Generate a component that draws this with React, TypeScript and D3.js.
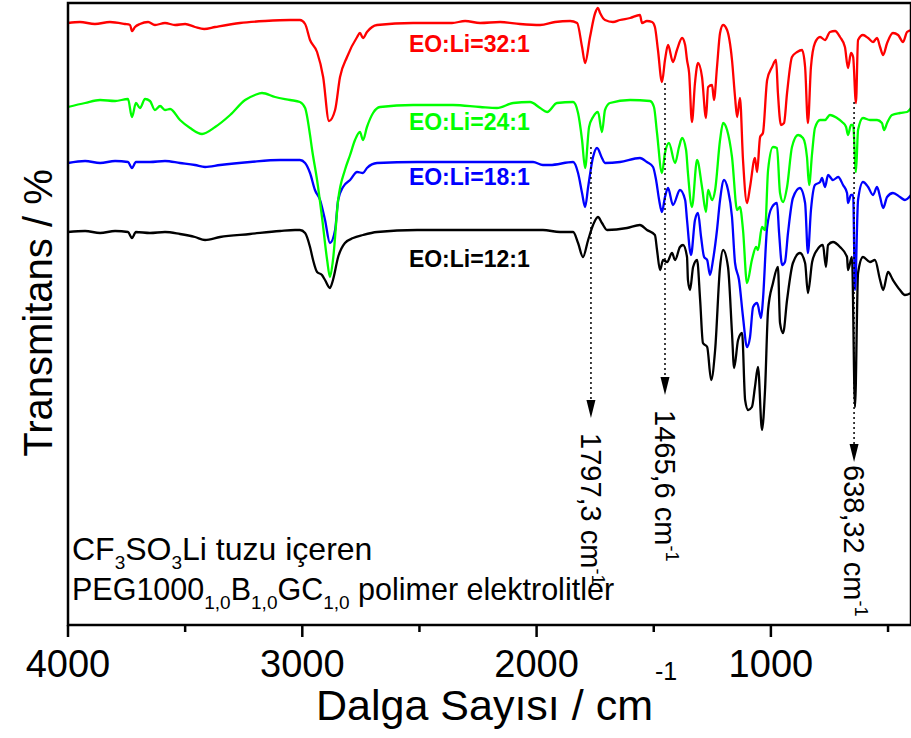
import React from 'react';
import * as d3 from 'd3';

const W = 911;
const H = 738;
const plot = { left: 68, top: 3, right: 911, bottom: 625 };

// FTIR spectra: [wavenumber (cm-1), transmittance (a.u., offset)]
const eo32: [number, number][] = [
  [4000, 602], [3949, 603], [3885, 601], [3821, 603], [3757, 601], [3735, 600], [3727, 594], [3714, 598],
  [3693, 601], [3658, 603], [3629, 600], [3586, 602], [3543, 600], [3500, 601], [3458, 598], [3419, 596],
  [3372, 598], [3266, 602], [3159, 604], [3052, 605], [3010, 605], [2988, 601], [2967, 585], [2937, 573],
  [2911, 548], [2886, 504], [2860, 515], [2839, 548], [2809, 568], [2766, 588], [2754, 592], [2741, 587],
  [2724, 593], [2681, 600], [2527, 602], [2361, 602], [2305, 604], [2241, 602], [2156, 603], [2071, 601],
  [1985, 600], [1921, 603], [1857, 604], [1827, 602], [1806, 578], [1793, 562], [1772, 588], [1750, 612],
  [1738, 617], [1729, 612], [1708, 605], [1674, 603], [1644, 605], [1601, 607], [1559, 610], [1550, 602],
  [1529, 604], [1507, 603], [1495, 598], [1482, 575], [1465, 543], [1452, 565], [1439, 580], [1418, 563],
  [1401, 575], [1379, 587], [1366, 580], [1358, 565], [1349, 552], [1337, 503], [1324, 542], [1311, 562],
  [1294, 548], [1277, 507], [1268, 538], [1251, 540], [1243, 525], [1230, 558], [1217, 592], [1204, 600],
  [1187, 595], [1166, 565], [1153, 528], [1144, 508], [1132, 527], [1119, 465], [1102, 422], [1089, 438],
  [1068, 467], [1059, 453], [1046, 488], [1034, 492], [1016, 545], [995, 558], [978, 565], [970, 532],
  [957, 500], [944, 502], [931, 532], [910, 568], [888, 573], [867, 575], [854, 558], [842, 502],
  [829, 558], [812, 582], [790, 588], [769, 585], [748, 593], [726, 594], [705, 588], [684, 578],
  [671, 557], [658, 572], [649, 568], [637, 522], [628, 585], [607, 590], [585, 587], [564, 583],
  [547, 587], [534, 578], [521, 570], [504, 582], [479, 592], [457, 590], [436, 583], [419, 593], [402, 595],
];

const eo24: [number, number][] = [
  [4000, 518], [3927, 522], [3863, 525], [3799, 524], [3744, 526], [3727, 508], [3710, 522], [3693, 517],
  [3671, 526], [3650, 524], [3629, 515], [3607, 519], [3586, 515], [3564, 516], [3522, 505], [3479, 497],
  [3428, 491], [3372, 498], [3308, 510], [3244, 525], [3202, 530], [3172, 532], [3116, 528], [3052, 525],
  [3010, 523], [2988, 517], [2967, 490], [2958, 475], [2937, 445], [2916, 408], [2894, 365], [2882, 348],
  [2869, 365], [2847, 425], [2818, 455], [2796, 470], [2775, 485], [2754, 493], [2741, 485], [2724, 498],
  [2698, 512], [2668, 518], [2527, 520], [2357, 520], [2241, 518], [2169, 517], [2100, 522], [2028, 523],
  [1985, 517], [1955, 513], [1913, 522], [1844, 523], [1823, 512], [1806, 485], [1793, 457], [1776, 498],
  [1759, 508], [1738, 513], [1721, 493], [1708, 515], [1687, 522], [1601, 525], [1516, 524], [1499, 518],
  [1486, 492], [1465, 452], [1452, 472], [1435, 482], [1409, 462], [1392, 478], [1379, 487], [1362, 475],
  [1354, 452], [1337, 418], [1315, 465], [1294, 438], [1277, 413], [1268, 435], [1251, 425], [1238, 435],
  [1217, 485], [1204, 502], [1187, 495], [1166, 468], [1144, 415], [1132, 418], [1119, 395], [1102, 342],
  [1081, 365], [1063, 378], [1055, 375], [1038, 398], [1025, 395], [1012, 455], [991, 478], [974, 477],
  [961, 432], [948, 423], [931, 438], [910, 478], [884, 490], [863, 487], [846, 468], [837, 440],
  [824, 472], [812, 497], [790, 505], [769, 505], [748, 510], [718, 507], [696, 503], [679, 498],
  [671, 490], [658, 500], [649, 500], [637, 453], [628, 495], [607, 507], [577, 505], [547, 505],
  [526, 502], [517, 495], [504, 502], [483, 510], [449, 512], [419, 513], [402, 517],
];

const eo18: [number, number][] = [
  [4000, 462], [3927, 464], [3863, 462], [3799, 464], [3744, 463], [3727, 457], [3710, 463], [3650, 463],
  [3586, 464], [3522, 462], [3458, 460], [3415, 458], [3351, 460], [3223, 463], [3095, 465], [3010, 465],
  [2988, 462], [2967, 452], [2946, 435], [2924, 425], [2903, 405], [2882, 382], [2860, 395], [2847, 425],
  [2826, 438], [2796, 445], [2766, 453], [2741, 452], [2724, 457], [2681, 462], [2510, 463], [2229, 463],
  [2015, 463], [1973, 460], [1943, 460], [1844, 463], [1823, 452], [1806, 432], [1793, 418], [1780, 438],
  [1759, 468], [1742, 477], [1721, 467], [1708, 462], [1644, 463], [1559, 467], [1529, 463], [1503, 458],
  [1490, 445], [1477, 425], [1465, 413], [1452, 428], [1439, 437], [1418, 420], [1388, 435], [1366, 425],
  [1358, 405], [1341, 370], [1324, 405], [1311, 412], [1298, 388], [1285, 368], [1272, 365], [1260, 350],
  [1247, 365], [1230, 395], [1217, 425], [1200, 445], [1183, 435], [1166, 408], [1153, 362], [1136, 345],
  [1119, 308], [1102, 278], [1089, 288], [1076, 318], [1059, 322], [1042, 307], [1034, 325], [1016, 398],
  [995, 418], [974, 422], [965, 392], [952, 360], [940, 363], [927, 392], [906, 427], [876, 437],
  [854, 422], [842, 372], [829, 415], [812, 440], [790, 443], [782, 447], [769, 438], [756, 450],
  [735, 445], [713, 448], [692, 440], [675, 432], [671, 422], [658, 430], [649, 430], [641, 335],
  [628, 425], [607, 443], [585, 438], [564, 430], [547, 438], [534, 428], [521, 417], [504, 428],
  [479, 432], [449, 428], [428, 425], [402, 430],
];

const eo12: [number, number][] = [
  [4000, 393], [3927, 394], [3863, 392], [3799, 394], [3744, 393], [3727, 387], [3710, 393], [3650, 392],
  [3586, 393], [3522, 391], [3458, 388], [3415, 385], [3351, 388], [3223, 391], [3095, 394], [3031, 395],
  [3010, 395], [2988, 392], [2967, 378], [2954, 365], [2937, 353], [2916, 350], [2903, 345], [2882, 337],
  [2869, 345], [2847, 368], [2818, 382], [2783, 387], [2741, 390], [2681, 393], [2510, 395], [2229, 395],
  [2083, 395], [1973, 395], [1900, 393], [1844, 393], [1823, 382], [1802, 368], [1780, 385], [1759, 400],
  [1738, 408], [1721, 402], [1699, 395], [1614, 397], [1559, 400], [1529, 395], [1495, 390], [1486, 375],
  [1473, 355], [1460, 365], [1443, 363], [1422, 372], [1409, 365], [1388, 378], [1375, 380], [1358, 368],
  [1354, 345], [1345, 335], [1332, 358], [1315, 365], [1302, 325], [1290, 282], [1272, 278], [1255, 245],
  [1238, 275], [1217, 358], [1204, 375], [1183, 358], [1166, 292], [1157, 257], [1140, 285], [1123, 292],
  [1110, 225], [1097, 215], [1081, 218], [1068, 238], [1055, 258], [1038, 195], [1025, 235], [1012, 315],
  [991, 342], [970, 358], [961, 302], [948, 292], [931, 325], [906, 362], [876, 372], [854, 362],
  [842, 332], [824, 363], [803, 375], [778, 380], [765, 358], [756, 380], [735, 383], [705, 378],
  [675, 368], [671, 355], [654, 368], [641, 218], [628, 352], [607, 368], [577, 363], [556, 365],
  [534, 345], [521, 335], [500, 353], [479, 345], [449, 335], [428, 330], [402, 332],
];

const seriesData = [eo12, eo18, eo24, eo32];
const seriesNames = ['EO:Li=12:1', 'EO:Li=18:1', 'EO:Li=24:1', 'EO:Li=32:1'];
const seriesColors = ['#000000', '#0000ff', '#00ff00', '#ff0000'];
const labelLevels = [358, 440, 495, 573];
const labelWn = 2545;

const xMajor = [4000, 3000, 2000, 1000];
const xMinor = [3500, 2500, 1500, 500];

// peak markers: arrow position, dotted line start / tip, label start
const peakLabels = ['1797,3', '1465,6', '638,32'];
const peakArrowWn = [1768, 1452, 645];
const peakLineTop = [478, 542, 523];
const peakTip = [207, 230, 163];
const peakTextStart = [192, 215, 160];

const font = 'Liberation Sans, Arial, Helvetica, sans-serif';

export default function App() {
  const x = d3.scaleLinear().domain([4000, 402]).range([plot.left, plot.right]);
  const y = d3.scaleLinear().domain([0, 622]).range([plot.bottom, plot.top]);
  const line = d3
    .line<[number, number]>()
    .x((d) => x(d[0]))
    .y((d) => y(d[1]))
    .curve(d3.curveMonotoneX);

  return (
    <svg width={W} height={H} style={{ position: 'absolute', left: 0, top: 0 }} fontFamily={font}>
      <rect x={0} y={0} width={W} height={H} fill="#fff" />

      {seriesData.map((d, i) => (
        <path key={seriesNames[i]} d={line(d) || ''} fill="none" stroke={seriesColors[i]} strokeWidth={2.3} strokeLinejoin="round" />
      ))}

      {seriesNames.map((n, i) => (
        <text key={n} x={x(labelWn)} y={y(labelLevels[i])} fontSize={23} fontWeight="bold" fill={seriesColors[i]}>
          {n}
        </text>
      ))}

      {peakLabels.map((p, i) => {
        const px = x(peakArrowWn[i]);
        const tip = y(peakTip[i]);
        return (
          <g key={p}>
            <line x1={px} x2={px} y1={y(peakLineTop[i])} y2={tip - 16} stroke="#000" strokeWidth={1.5} strokeDasharray="2,3" />
            <path d={`M${px - 4.5},${tip - 18}L${px + 4.5},${tip - 18}L${px},${tip}Z`} fill="#000" />
            <text transform={`translate(${px},${y(peakTextStart[i])}) rotate(90)`} dy="0.35em" fontSize={29}>
              {p} cm
              <tspan dy="-0.6em" fontSize={18}>-1</tspan>
            </text>
          </g>
        );
      })}

      <text x={72} y={560} fontSize={32}>
        CF<tspan dy={9} fontSize={19}>3</tspan>
        <tspan dy={-9}>SO</tspan>
        <tspan dy={9} fontSize={19}>3</tspan>
        <tspan dy={-9}>Li tuzu içeren</tspan>
      </text>
      <text x={72} y={600} fontSize={30.5}>
        PEG1000<tspan dy={9} fontSize={19}>1,0</tspan>
        <tspan dy={-9}>B</tspan>
        <tspan dy={9} fontSize={19}>1,0</tspan>
        <tspan dy={-9}>GC</tspan>
        <tspan dy={9} fontSize={19}>1,0</tspan>
        <tspan dy={-9}> polimer elektrolitler</tspan>
      </text>

      {/* frame */}
      <rect x={plot.left} y={plot.top} width={plot.right - plot.left} height={plot.bottom - plot.top} fill="none" stroke="#000" strokeWidth={2.5} />

      {xMajor.map((t) => (
        <g key={t}>
          <line x1={x(t)} x2={x(t)} y1={plot.bottom} y2={plot.bottom + 12} stroke="#000" strokeWidth={2.5} />
          <text x={x(t)} y={677} fontSize={38} textAnchor="middle">{t}</text>
        </g>
      ))}
      {xMinor.map((t) => (
        <line key={t} x1={x(t)} x2={x(t)} y1={plot.bottom} y2={plot.bottom + 7} stroke="#000" strokeWidth={2.5} />
      ))}

      <text x={316} y={720} fontSize={43}>
        Dalga Sayısı / cm<tspan dx={2} dy={-40} fontSize={25}>-1</tspan>
      </text>
      <text transform={`translate(52,313) rotate(-90)`} fontSize={40} textAnchor="middle">
        Transmitans / %
      </text>
    </svg>
  );
}
